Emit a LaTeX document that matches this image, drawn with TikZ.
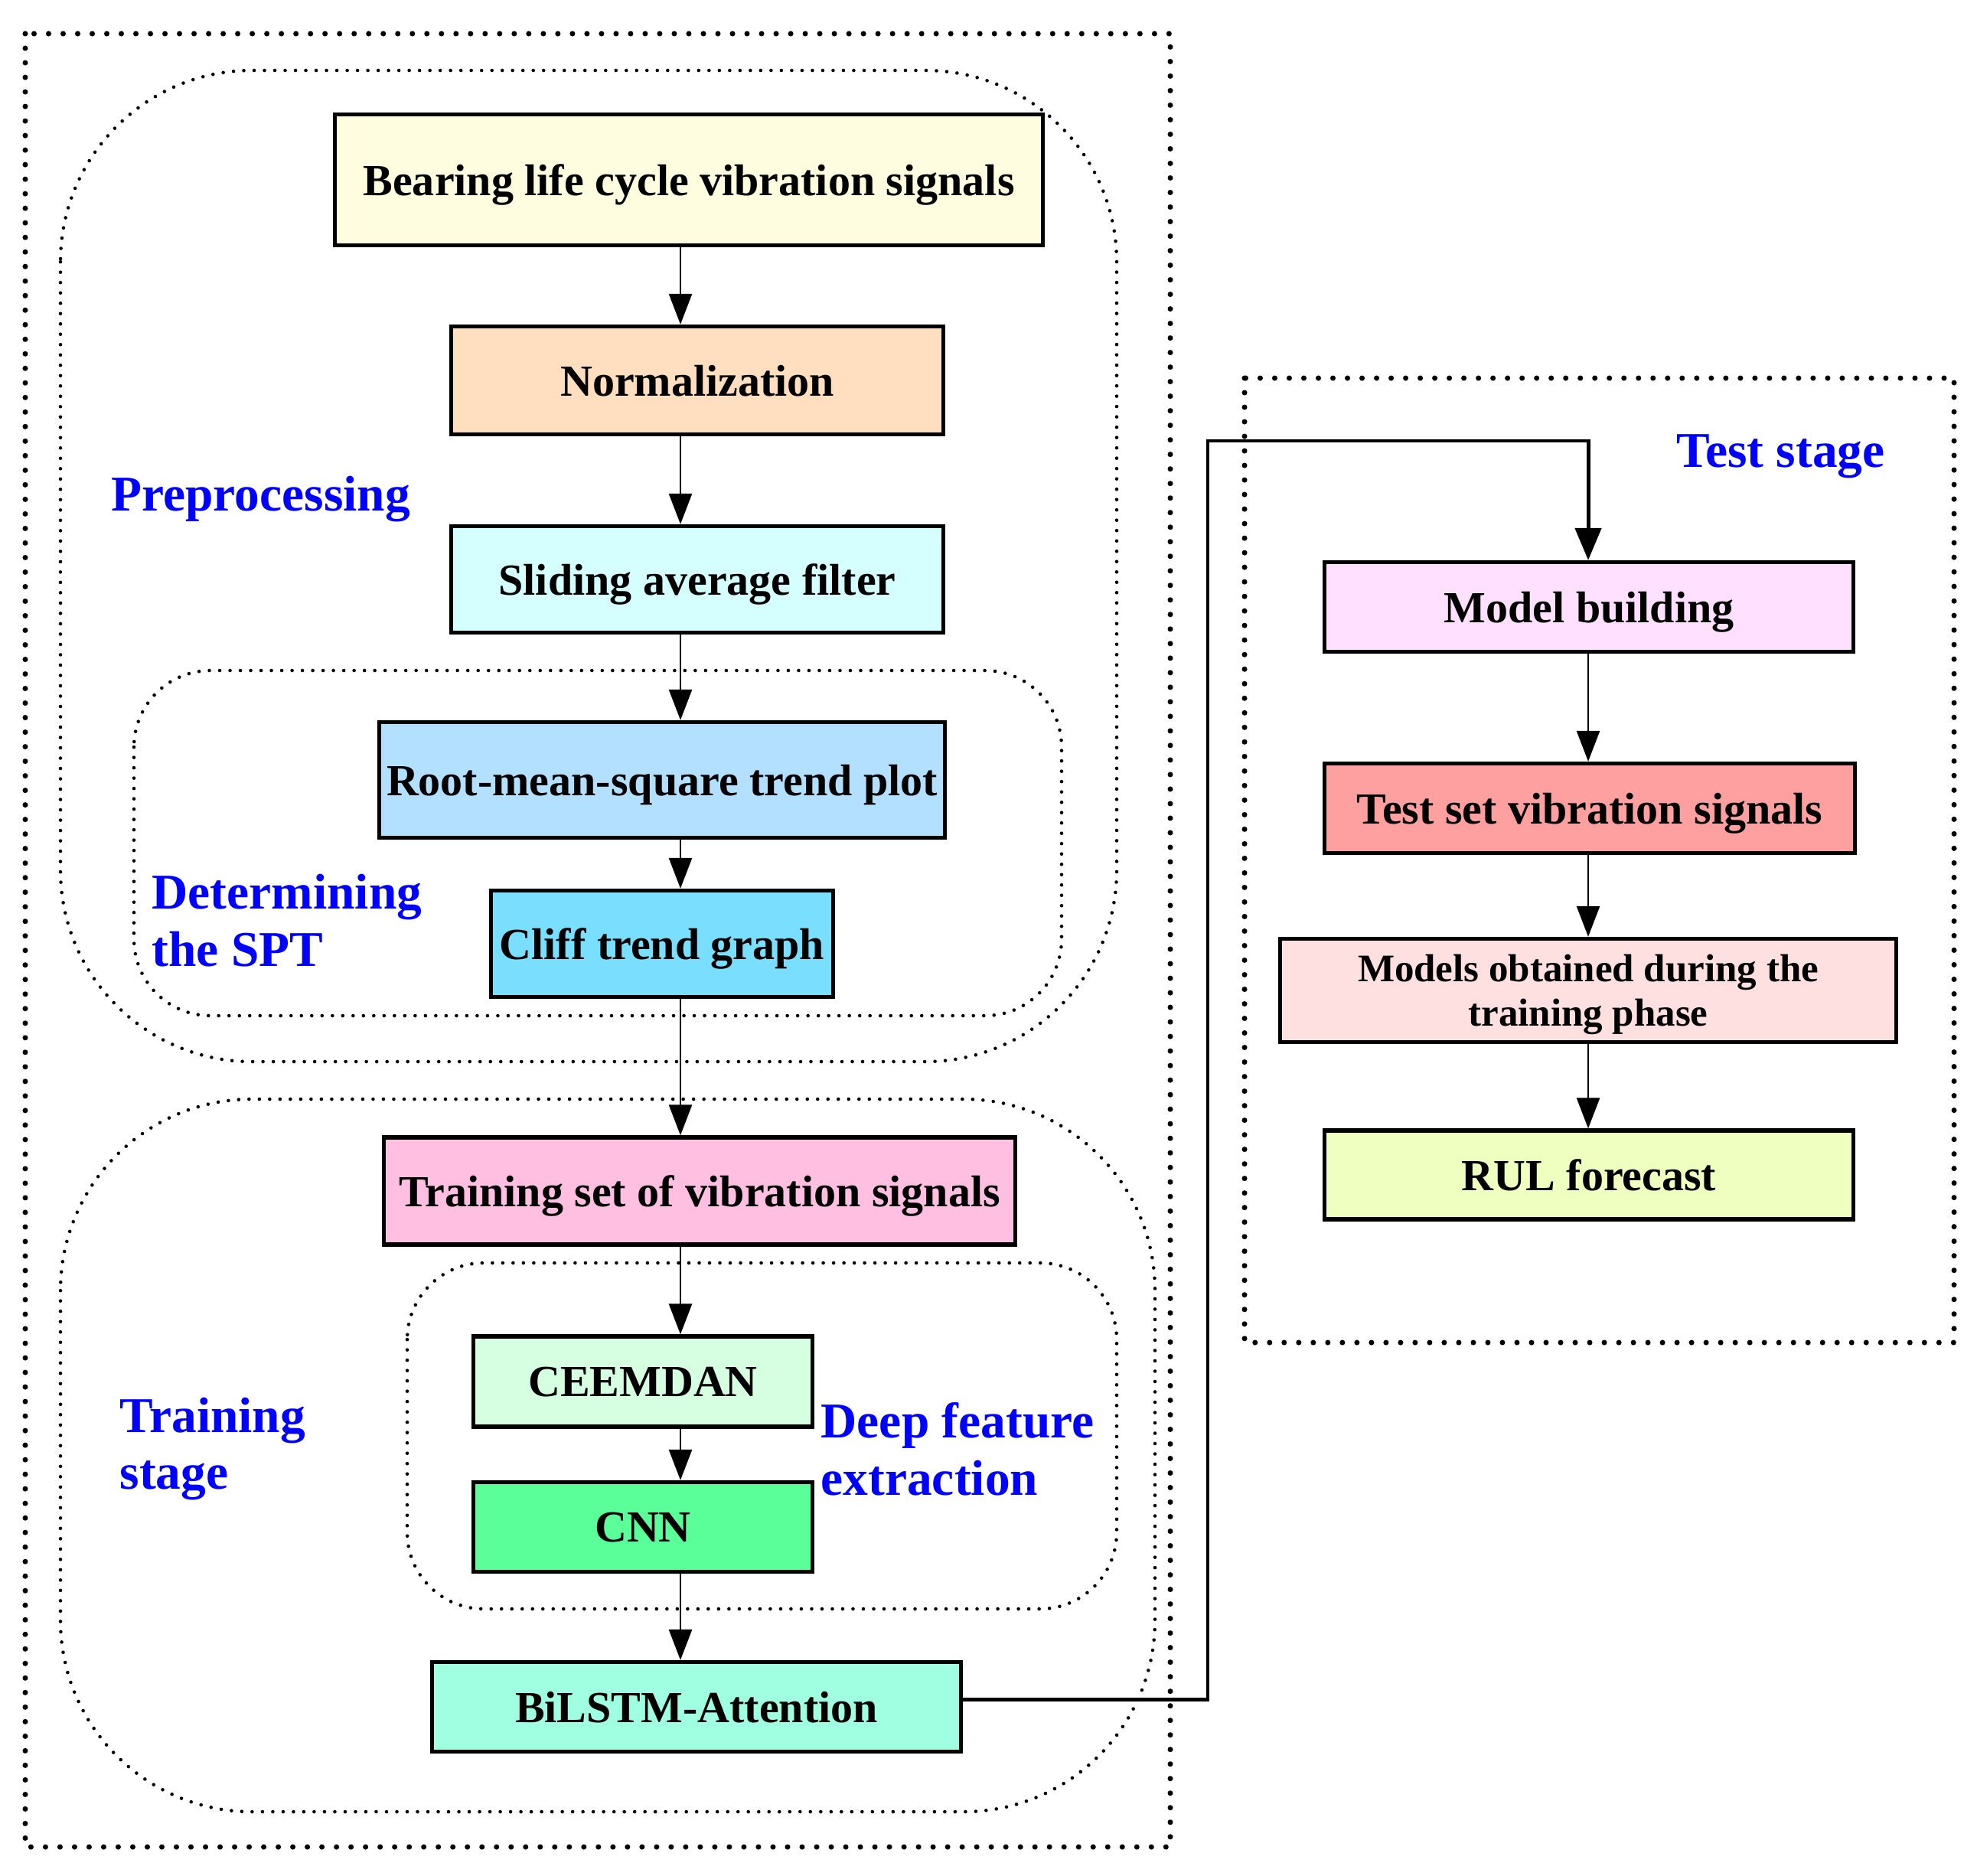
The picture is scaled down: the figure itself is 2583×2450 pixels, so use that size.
\documentclass[tikz,border=0pt]{standalone}
\usepackage{fontspec}
\setmainfont{Liberation Serif}
\usetikzlibrary{arrows.meta}

\definecolor{labblue}{HTML}{0000FF}
\definecolor{cA}{HTML}{FFFDDF}
\definecolor{cB}{HTML}{FFDFBF}
\definecolor{cC}{HTML}{D5FFFF}
\definecolor{cD}{HTML}{B3E0FF}
\definecolor{cE}{HTML}{7ADFFF}
\definecolor{cF}{HTML}{FFBFE0}
\definecolor{cG}{HTML}{D5FFE0}
\definecolor{cH}{HTML}{5BFF99}
\definecolor{cI}{HTML}{A0FFE0}
\definecolor{cJ}{HTML}{FFE0FF}
\definecolor{cK}{HTML}{FFA0A0}
\definecolor{cL}{HTML}{FFE0E0}
\definecolor{cM}{HTML}{EFFFBF}

\begin{document}
\begin{tikzpicture}[x=0.01cm,y=-0.01cm,
	box/.style={draw,line width=1.5pt,inner sep=0pt,align=center,text depth=0pt,font=\fontsize{16.5}{19}\selectfont\bfseries},
	lab/.style={anchor=west,align=left,inner sep=0pt,text=labblue,font=\fontsize{18.6}{21.3}\selectfont\bfseries},
	arr/.style={line width=0.75pt,-{Triangle[length=0.4cm,width=0.3cm]}},
	frame/.style={line width=2pt,line cap=round,dash pattern=on 0pt off 0.19cm},
	group/.style={line width=1.3pt,line cap=round,dash pattern=on 0pt off 0.135cm}]
		\useasboundingbox (0,0) rectangle (2583,2450);
		
		% dotted frames
		\draw[frame] (33,44) rectangle (1529,2413);
		\draw[frame] (1626,494) rectangle (2553,1754);
		\draw[group,rounded corners=2.5cm] (79,92) rectangle (1459,1387);
		\draw[group,rounded corners=1cm] (175,876) rectangle (1387,1327);
		\draw[group,rounded corners=2.5cm] (79,1436) rectangle (1509,2367);
		\draw[group,rounded corners=1cm] (532,1650) rectangle (1459,2102);
		
		% training side
		\node[box,fill=cA,minimum width=9.24cm,minimum height=1.71cm] (A) at (900,235) {Bearing life cycle vibration signals};
		\node[box,fill=cB,minimum width=6.42cm,minimum height=1.41cm] (B) at (911,497) {Normalization};
		\node[box,fill=cC,minimum width=6.42cm,minimum height=1.39cm] (C) at (911,757) {Sliding average filter};
		\node[box,fill=cD,minimum width=7.38cm,minimum height=1.51cm] (D) at (865,1019) {Root-mean-square trend plot};
		\node[box,fill=cE,minimum width=4.47cm,minimum height=1.39cm] (E) at (865,1233) {Cliff trend graph};
		\node[box,fill=cF,minimum width=8.24cm,minimum height=1.40cm] (F) at (914,1556) {Training set of vibration signals};
		\node[box,fill=cG,minimum width=4.43cm,minimum height=1.18cm] (G) at (840,1805) {CEEMDAN};
		\node[box,fill=cH,minimum width=4.43cm,minimum height=1.17cm] (H) at (840,1995) {CNN};
		\node[box,fill=cI,minimum width=6.90cm,minimum height=1.17cm] (I) at (910,2230) {BiLSTM-Attention};
		
		% test side
		\node[box,fill=cJ,minimum width=6.90cm,minimum height=1.17cm] (J) at (2076,793) {Model building};
		\node[box,fill=cK,minimum width=6.93cm,minimum height=1.17cm] (K) at (2077,1056) {Test set vibration signals};
		\node[box,fill=cL,minimum width=8.04cm,minimum height=1.35cm,font=\fontsize{14.5}{16.5}\selectfont\bfseries] (L) at (2075,1294) {Models obtained during the\\training phase};
		\node[box,fill=cM,minimum width=6.90cm,minimum height=1.16cm] (M) at (2076,1535) {RUL forecast};
		
		% labels
		\node[lab] (pre) at (145,652) {Preprocessing};
		\node[lab] (spt) at (198,1203) {Determining\\the SPT};
		\node[lab] (trn) at (156,1893) {Training\\stage};
		\node[lab] (dfe) at (1072,1893) {Deep feature\\extraction};
		\node[lab] (tst) at (2190,596) {Test stage};
		
		% arrows
		\coordinate (s) at (889,0);
		\draw[arr] (A.south -| s) -- (B.north -| s);
		\draw[arr] (B.south -| s) -- (C.north -| s);
		\draw[arr] (C.south -| s) -- (D.north -| s);
		\draw[arr] (D.south -| s) -- (E.north -| s);
		\draw[arr] (E.south -| s) -- (F.north -| s);
		\draw[arr] (F.south -| s) -- (G.north -| s);
		\draw[arr] (G.south -| s) -- (H.north -| s);
		\draw[arr] (H.south -| s) -- (I.north -| s);
		
		\coordinate (t) at (2075,0);
		\draw[arr] (J.south -| t) -- (K.north -| t);
		\draw[arr] (K.south -| t) -- (L.north -| t);
		\draw[arr] (L.south -| t) -- (M.north -| t);
		
		\coordinate (p) at (1578,576);
		\draw[line width=1.4pt,-{Triangle[length=0.42cm,width=0.34cm]}] ([yshift=0.1cm]I.east) -| (p) -| (J.north -| t);
		
	\end{tikzpicture}
\end{document}
